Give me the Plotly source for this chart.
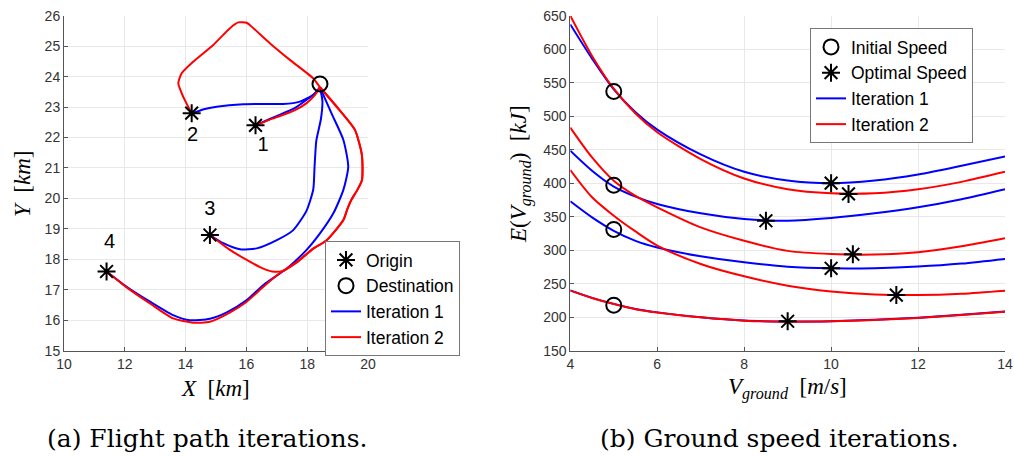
import plotly.graph_objects as go

BLUE = "#0000ff"
RED = "#ff0000"

# ---------------- (a) Flight path iterations ----------------
origin_x = [16.3, 14.2, 14.8, 11.4]
origin_y = [22.4, 22.8, 18.8, 17.6]
origin_labels = ["1", "2", "3", "4"]
label_x = [16.55, 14.23, 14.8, 11.5]
label_y = [21.72, 22.05, 19.62, 18.52]
dest_x = [18.42]
dest_y = [23.76]

# Iteration 1 (blue) paths
p1_it1_x = [16.3, 16.75, 17.2, 17.6, 17.97, 18.25, 18.42]
p1_it1_y = [22.4, 22.6, 22.79, 22.97, 23.23, 23.45, 23.65]
p2_it1_x = [14.2, 14.6, 15.02, 15.9, 16.6, 17.21, 17.76, 18.2, 18.42]
p2_it1_y = [22.79, 22.93, 23.01, 23.09, 23.1, 23.1, 23.18, 23.4, 23.65]
p3_it1_x = [14.8, 15.24, 15.79, 16.34, 17.0, 17.54, 17.98, 18.2, 18.24, 18.3, 18.45, 18.5, 18.42]
p3_it1_y = [18.8, 18.53, 18.33, 18.36, 18.63, 18.96, 19.6, 20.3, 21.0, 21.9, 22.6, 23.2, 23.65]
p4_it1_x = [11.4, 12.06, 12.83, 13.59, 14.14, 14.8, 15.34, 16.01, 16.56, 17.33, 17.98, 18.42,
            18.86, 19.19, 19.35, 19.19, 18.8, 18.42]
p4_it1_y = [17.6, 17.1, 16.61, 16.17, 16.0, 16.05, 16.25, 16.66, 17.16, 17.7, 18.31, 18.85,
            19.51, 20.28, 21.04, 21.92, 22.79, 23.65]

# Iteration 2 (red) paths
p1_it2_x = [16.3, 16.75, 17.2, 17.6, 17.97, 18.25, 18.42]
p1_it2_y = [22.4, 22.58, 22.74, 22.9, 23.12, 23.39, 23.65]
p2_it2_x = [14.2, 13.92, 13.76, 13.87, 14.25, 14.91, 15.46, 15.73, 16.01, 16.23, 16.78, 17.43, 18.2, 18.42]
p2_it2_y = [22.79, 23.34, 23.78, 24.11, 24.49, 25.04, 25.59, 25.78, 25.77, 25.59, 25.09, 24.55, 23.94, 23.65]
p3_it2_x = [14.8, 15.46, 16.01, 16.5, 16.85, 17.2, 17.65, 18.2, 18.64, 19.19, 19.32, 19.45, 19.65,
            19.8, 19.82, 19.79, 19.57, 18.97, 18.42]
p3_it2_y = [18.8, 18.31, 17.98, 17.72, 17.6, 17.62, 17.9, 18.35, 18.63, 19.29, 19.65, 19.95, 20.28,
            20.6, 21.0, 21.48, 22.25, 23.01, 23.65]
p4_it2_x = [11.4, 12.06, 12.83, 13.59, 14.25, 14.8, 15.45, 16.0, 16.56, 17.1, 17.65, 18.2, 18.64,
            19.19, 19.32, 19.45, 19.65, 19.8, 19.82, 19.79, 19.57, 18.97, 18.42]
p4_it2_y = [17.6, 17.08, 16.55, 16.06, 15.92, 15.95, 16.25, 16.6, 17.1, 17.55, 17.9, 18.35, 18.63,
            19.29, 19.65, 19.95, 20.28, 20.6, 21.0, 21.48, 22.25, 23.01, 23.65]

it1_paths = [(p1_it1_x, p1_it1_y), (p2_it1_x, p2_it1_y), (p3_it1_x, p3_it1_y), (p4_it1_x, p4_it1_y)]
it2_paths = [(p1_it2_x, p1_it2_y), (p2_it2_x, p2_it2_y), (p3_it2_x, p3_it2_y), (p4_it2_x, p4_it2_y)]

# ---------------- (b) Ground speed iterations ----------------
v_ground = [4, 4.5, 5, 5.5, 6, 7, 8, 9, 10, 11, 12, 13, 14]
e_it1_a = [637, 586, 540, 506, 480, 443, 417, 404, 400, 404, 413, 426, 440]
e_it1_b = [448.5, 418.6, 395, 380, 369, 355, 346.5, 344, 348, 355, 364, 376, 391]
e_it1_c = [373, 349, 329, 314, 304, 290.8, 282, 275.4, 273, 273.2, 275.5, 280, 287]
e_it1_d = [240, 228.8, 219.9, 212.2, 207.2, 200, 195, 193.6, 194.1, 196.1, 199.2, 203.6, 208.6]
e_it2_a = [650, 590, 541, 504, 476, 436, 407, 391, 385, 385, 391, 402, 417]
e_it2_b = [483, 438.5, 403.7, 381, 364, 334, 314, 299, 294.3, 293.5, 297, 306, 318]
e_it2_c = [419.6, 379, 351.5, 328, 307, 279.4, 261, 247, 238.5, 234, 233, 235, 239.6]
e_it2_d = [239.6, 228.6, 219.7, 212, 207, 199.8, 194.8, 193.3, 193.8, 195.8, 198.8, 203.3, 208]

initial_v = [5, 5, 5, 5]
initial_e = [537, 397, 331, 218]
optimal_v = [10, 10.4, 8.5, 10.5, 10, 11.5, 9]
optimal_e = [400, 384, 344, 294, 273, 233, 194]

fig = go.Figure()

# ---- left panel traces ----
for i, (px, py) in enumerate(it1_paths):
    fig.add_trace(go.Scatter(x=px, y=py, mode="lines", line=dict(color=BLUE, width=2, shape="spline", smoothing=0.6),
                             name="Iteration 1", showlegend=(i == 0), legend="legend", legendrank=3,
                             xaxis="x", yaxis="y", hoverinfo="skip"))
for i, (px, py) in enumerate(it2_paths):
    fig.add_trace(go.Scatter(x=px, y=py, mode="lines", line=dict(color=RED, width=2, shape="spline", smoothing=0.6),
                             name="Iteration 2", showlegend=(i == 0), legend="legend", legendrank=4,
                             xaxis="x", yaxis="y", hoverinfo="skip"))
fig.add_trace(go.Scatter(x=origin_x, y=origin_y, mode="markers", name="Origin", legend="legend", legendrank=1,
                         marker=dict(symbol="asterisk-open", size=15, color="black", line=dict(color="black", width=2)),
                         xaxis="x", yaxis="y"))
fig.add_trace(go.Scatter(x=dest_x, y=dest_y, mode="markers", name="Destination", legend="legend", legendrank=2,
                         marker=dict(symbol="circle-open", size=15, color="black", line=dict(color="black", width=2)),
                         xaxis="x", yaxis="y"))
fig.add_trace(go.Scatter(x=label_x, y=label_y, mode="text", text=origin_labels, showlegend=False,
                         textfont=dict(family="Liberation Sans", size=20, color="black"),
                         xaxis="x", yaxis="y"))

# ---- right panel traces ----
for i, ey in enumerate([e_it1_a, e_it1_b, e_it1_c, e_it1_d]):
    fig.add_trace(go.Scatter(x=v_ground, y=ey, mode="lines", line=dict(color=BLUE, width=2, shape="spline", smoothing=0.8),
                             name="Iteration 1", showlegend=(i == 0), legend="legend2", legendrank=3,
                             xaxis="x2", yaxis="y2", hoverinfo="skip"))
for i, ey in enumerate([e_it2_a, e_it2_b, e_it2_c, e_it2_d]):
    fig.add_trace(go.Scatter(x=v_ground, y=ey, mode="lines", line=dict(color=RED, width=2, shape="spline", smoothing=0.8),
                             name="Iteration 2", showlegend=(i == 0), legend="legend2", legendrank=4,
                             xaxis="x2", yaxis="y2", hoverinfo="skip"))
fig.add_trace(go.Scatter(x=initial_v, y=initial_e, mode="markers", name="Initial Speed", legend="legend2", legendrank=1,
                         marker=dict(symbol="circle-open", size=15, color="black", line=dict(color="black", width=2)),
                         xaxis="x2", yaxis="y2"))
fig.add_trace(go.Scatter(x=optimal_v, y=optimal_e, mode="markers", name="Optimal Speed", legend="legend2", legendrank=2,
                         marker=dict(symbol="asterisk-open", size=15, color="black", line=dict(color="black", width=2)),
                         xaxis="x2", yaxis="y2"))

W, H = 1014, 456
def fx(p):
    return p / W
def fy(p):
    return 1 - p / H

axis_common = dict(showgrid=True, gridcolor="#e8e8e8", gridwidth=1, showline=True, linecolor="#555555",
                   linewidth=1, ticks="inside", ticklen=4, tickcolor="#555555", zeroline=False,
                   tickfont=dict(family="Liberation Sans", size=14, color="#333333"), mirror=False,
                   automargin=False)

legend_common = dict(xanchor="left", yanchor="top", bgcolor="white", bordercolor="#777777", borderwidth=1,
                     font=dict(family="Liberation Sans", size=17.5, color="black"),
                     traceorder="normal", itemwidth=30, tracegroupgap=0)

fig.update_layout(
    width=W, height=H, margin=dict(l=0, r=0, t=0, b=0, pad=0, autoexpand=False),
    plot_bgcolor="white", paper_bgcolor="white",
    xaxis=dict(domain=[fx(64), fx(368)], range=[10, 20], dtick=2, anchor="y", **axis_common),
    yaxis=dict(domain=[fy(350.7), fy(15.7)], range=[15, 26], dtick=1, anchor="x", **axis_common),
    xaxis2=dict(domain=[fx(570.3), fx(1005)], range=[4, 14], dtick=2, anchor="y2", **axis_common),
    yaxis2=dict(domain=[fy(350.7), fy(15.7)], range=[150, 650], dtick=50, anchor="x2", **axis_common),
    legend=dict(x=fx(325), y=fy(241), **legend_common),
    legend2=dict(x=fx(810), y=fy(28), **legend_common),
    showlegend=True,
)

serif = "Liberation Serif"
cap_font = "DejaVu Serif"
sp = "&nbsp;&nbsp;"
ann_common = dict(xref="paper", yref="paper", showarrow=False, xanchor="center", yanchor="middle")
ann = [
    dict(text="<i>X</i>" + sp + "[<i>km</i>]", x=fx(215), y=fy(388),
         font=dict(family=serif, size=23, color="black"), **ann_common),
    dict(text="<i>Y</i>" + sp + "[<i>km</i>]", x=fx(23), y=fy(184), textangle=-90,
         font=dict(family=serif, size=23, color="black"), **ann_common),
    dict(text="<i>V</i><sub><i>ground</i></sub>" + sp + "[<i>m</i>/<i>s</i>]", x=fx(787), y=fy(388),
         font=dict(family=serif, size=23, color="black"), **ann_common),
    dict(text="<i>E</i>(<i>V</i><sub><i>ground</i></sub>)" + sp + "[<i>kJ</i>]", x=fx(521), y=fy(174),
         textangle=-90, font=dict(family=serif, size=23, color="black"), **ann_common),
    dict(text="(a) Flight path iterations.", x=fx(207), y=fy(438),
         font=dict(family=cap_font, size=25, color="black"), **ann_common),
    dict(text="(b) Ground speed iterations.", x=fx(779), y=fy(438),
         font=dict(family=cap_font, size=25, color="black"), **ann_common),
]
fig.update_layout(annotations=ann)

fig.write_html("out.html")
